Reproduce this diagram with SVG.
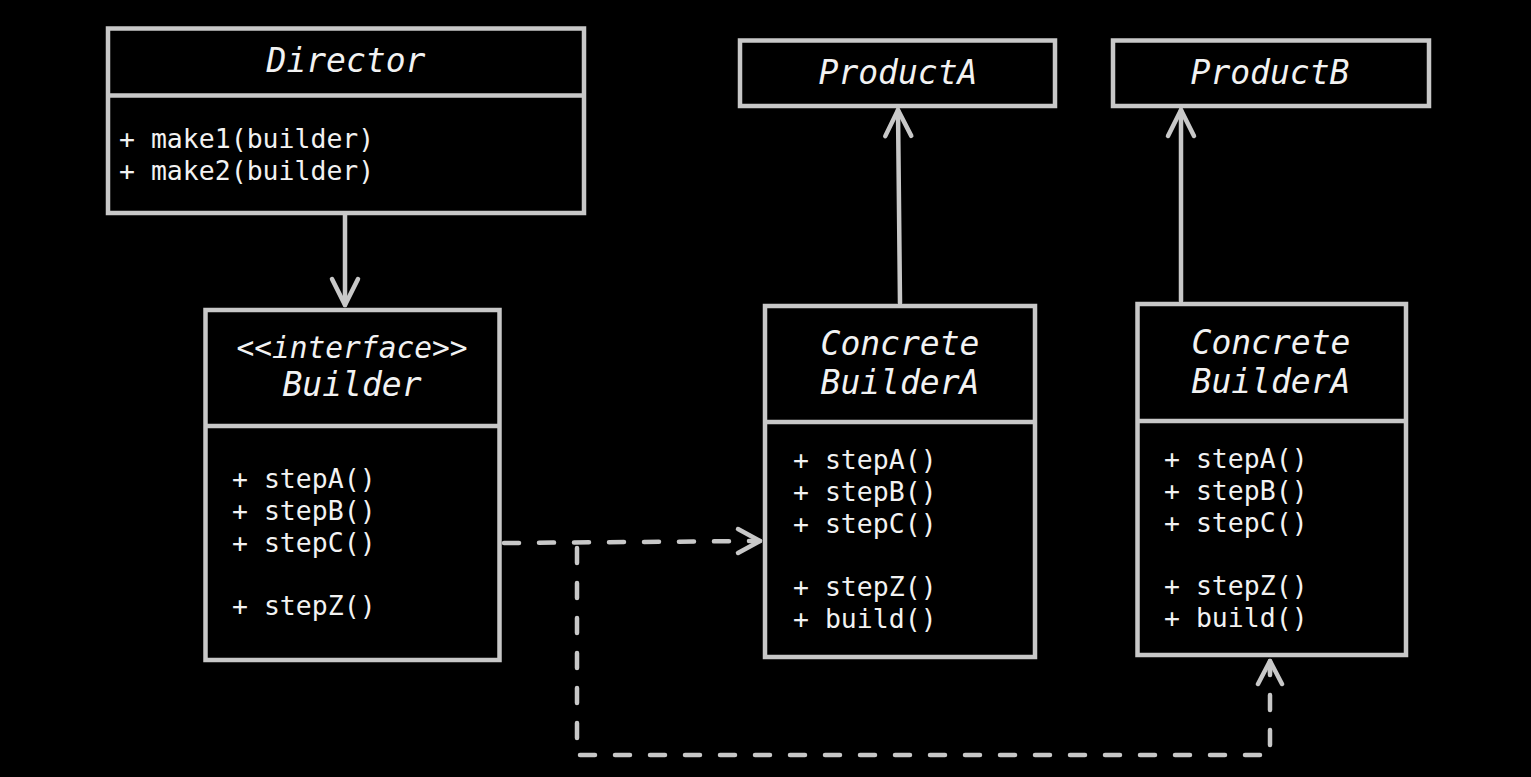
<svg xmlns="http://www.w3.org/2000/svg" width="1531" height="777" viewBox="0 0 1531 777">
<style>
.box{fill:#000;stroke:#c8c8c8;stroke-width:4.5}
.div{stroke:#c8c8c8;stroke-width:4.5}
.title{font-family:"DejaVu Sans Mono","Liberation Mono",monospace;font-style:italic;font-size:33px;fill:#f2f2f2;text-anchor:middle}
.stereo{font-family:"DejaVu Sans Mono","Liberation Mono",monospace;font-style:italic;font-size:29.5px;fill:#f2f2f2;text-anchor:middle}
.body{font-family:"DejaVu Sans Mono","Liberation Mono",monospace;font-size:26.5px;fill:#f2f2f2}
.line{fill:none;stroke:#c8c8c8;stroke-width:4.5;stroke-linecap:round;stroke-linejoin:round}
.dash{fill:none;stroke:#c8c8c8;stroke-width:4.5;stroke-linecap:round;stroke-dasharray:15 20}
</style>
<defs>
<marker id="open" markerUnits="userSpaceOnUse" markerWidth="40" markerHeight="40" viewBox="-20 -20 40 40" refX="0" refY="0" orient="auto" overflow="visible">
<path d="M -26 -13 L 0 0 L -26 13" fill="none" stroke="#c8c8c8" stroke-width="4.5" stroke-linecap="round" stroke-linejoin="round"/>
</marker>
</defs>
<rect width="1531" height="777" fill="#000"/>

<g id="connectors">
<line class="line" x1="345" y1="215" x2="345" y2="305" marker-end="url(#open)"/>
<line class="line" x1="900" y1="303" x2="898" y2="110" marker-end="url(#open)"/>
<line class="line" x1="1181" y1="301" x2="1181" y2="110" marker-end="url(#open)"/>
<path class="dash" d="M 504 543 L 760 541"/>
<path class="line" d="M 738 529 L 760 541 L 738 553"/>
<path class="dash" d="M 577 548 L 577 755 L 1270 755 L 1270 668"/>
<path class="line" d="M 1258 684 L 1270 661 L 1282 684"/>
<line class="line" x1="1270" y1="661" x2="1270" y2="672"/>
</g>

<g id="director">
<rect class="box" x="108" y="28.5" width="476" height="184.5"/>
<line class="div" x1="108" y1="95.5" x2="584" y2="95.5"/>
<text class="title" x="346" y="72">Director</text>
<text class="body" x="119" y="148">+ make1(builder)</text>
<text class="body" x="119" y="180">+ make2(builder)</text>
</g>

<g id="productA">
<rect class="box" x="740" y="40.5" width="315" height="65.5"/>
<text class="title" x="898" y="84">ProductA</text>
</g>

<g id="productB">
<rect class="box" x="1113" y="40.5" width="316" height="65.5"/>
<text class="title" x="1270" y="84">ProductB</text>
</g>

<g id="builder">
<rect class="box" x="205.5" y="310" width="294" height="350"/>
<line class="div" x1="205.5" y1="426" x2="499.5" y2="426"/>
<text class="stereo" x="352" y="358">&lt;&lt;interface&gt;&gt;</text>
<text class="title" x="352" y="396">Builder</text>
<text class="body" x="232" y="488">+ stepA()</text>
<text class="body" x="232" y="520">+ stepB()</text>
<text class="body" x="232" y="552">+ stepC()</text>
<text class="body" x="232" y="615">+ stepZ()</text>
</g>

<g id="concreteBuilderA1">
<rect class="box" x="765" y="306" width="270" height="351"/>
<line class="div" x1="765" y1="422" x2="1035" y2="422"/>
<text class="title" x="900" y="355">Concrete</text>
<text class="title" x="900" y="394">BuilderA</text>
<text class="body" x="793" y="469">+ stepA()</text>
<text class="body" x="793" y="501">+ stepB()</text>
<text class="body" x="793" y="533">+ stepC()</text>
<text class="body" x="793" y="596">+ stepZ()</text>
<text class="body" x="793" y="628">+ build()</text>
</g>

<g id="concreteBuilderA2">
<rect class="box" x="1137.5" y="304" width="268.5" height="351"/>
<line class="div" x1="1137.5" y1="421" x2="1406" y2="421"/>
<text class="title" x="1271" y="354">Concrete</text>
<text class="title" x="1271" y="393">BuilderA</text>
<text class="body" x="1164" y="468">+ stepA()</text>
<text class="body" x="1164" y="500">+ stepB()</text>
<text class="body" x="1164" y="532">+ stepC()</text>
<text class="body" x="1164" y="595">+ stepZ()</text>
<text class="body" x="1164" y="627">+ build()</text>
</g>
</svg>
